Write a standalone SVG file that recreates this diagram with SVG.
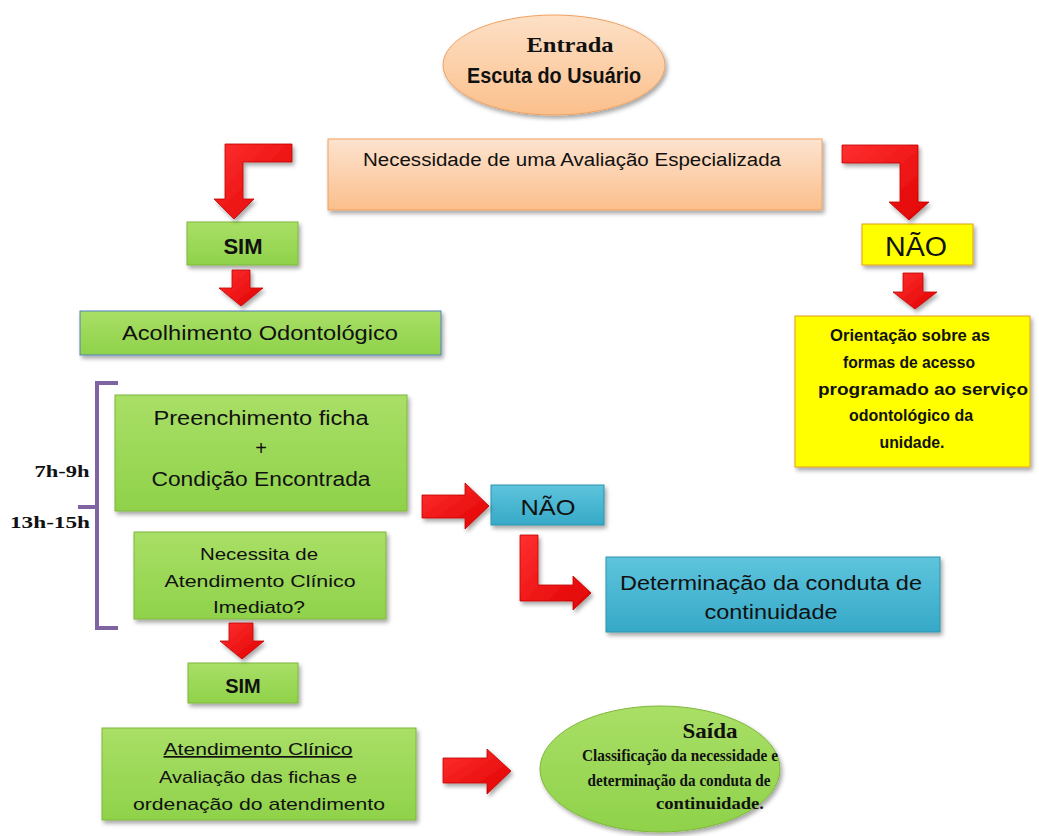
<svg xmlns="http://www.w3.org/2000/svg" width="1039" height="836" viewBox="0 0 1039 836">
<defs>
<linearGradient id="gOrange" x1="0" y1="0" x2="0" y2="1"><stop offset="0" stop-color="#fde3cf"/><stop offset="1" stop-color="#fbbf8c"/></linearGradient>
<linearGradient id="gEll" x1="0" y1="0" x2="0" y2="1"><stop offset="0" stop-color="#fde0c6"/><stop offset="1" stop-color="#fbc08c"/></linearGradient>
<linearGradient id="gGreen" x1="0" y1="0" x2="0" y2="1"><stop offset="0" stop-color="#a9df66"/><stop offset="1" stop-color="#8fd24a"/></linearGradient>
<linearGradient id="gBlue" x1="0" y1="0" x2="0" y2="1"><stop offset="0" stop-color="#5ec4dc"/><stop offset="1" stop-color="#36a9c8"/></linearGradient>
<linearGradient id="gRed" x1="0" y1="0" x2="1" y2="1"><stop offset="0" stop-color="#ff3030"/><stop offset="1" stop-color="#e00000"/></linearGradient>
<filter id="sh" x="-10%" y="-10%" width="130%" height="140%"><feDropShadow dx="2" dy="3" stdDeviation="2" flood-color="#000" flood-opacity="0.35"/></filter>
</defs>
<style>
.box{filter:url(#sh);}
.green{fill:url(#gGreen);stroke:#7fb63c;stroke-width:1}
.blue{fill:url(#gBlue);stroke:#2f93ad;stroke-width:1}
.yellow{fill:#ffff00;stroke:#e0a020;stroke-width:1}
.arrow{fill:url(#gRed);stroke:#c00000;stroke-width:0.8;filter:url(#sh)}
.t{font-family:"Liberation Sans",Arial,sans-serif;fill:#111;text-anchor:middle}
.s{font-family:"Liberation Serif","Times New Roman",serif;font-weight:bold;fill:#111;text-anchor:middle}
</style>

<g id="entrada">
<ellipse class="box" cx="554" cy="65" rx="111" ry="50" fill="url(#gEll)" stroke="#f0a060" stroke-width="1"/>
<text class="s" x="570" y="52" font-size="22" textLength="87" lengthAdjust="spacingAndGlyphs">Entrada</text>
<text class="t" x="554" y="83" font-size="22" font-weight="bold" textLength="174" lengthAdjust="spacingAndGlyphs">Escuta do Usuário</text>
</g>

<g id="necessidade">
<rect class="box" x="328" y="139" width="494" height="71" fill="url(#gOrange)" stroke="#f0a060" stroke-width="1"/>
<text class="t" x="572" y="166" font-size="18" textLength="418" lengthAdjust="spacingAndGlyphs">Necessidade de uma Avaliação  Especializada</text>
</g>

<g id="sim1">
<rect class="box green" x="187" y="222" width="111" height="43"/>
<text class="t" x="243" y="254" font-size="22" font-weight="bold">SIM</text>
</g>

<g id="acolhimento">
<rect class="box" x="80" y="311" width="361" height="44" fill="url(#gGreen)" stroke="#4f81bd" stroke-width="1"/>
<text class="t" x="260" y="340" font-size="20" textLength="276" lengthAdjust="spacingAndGlyphs">Acolhimento Odontológico</text>
</g>

<g id="nao1">
<rect class="box yellow" x="862" y="224" width="111" height="41"/>
<text class="t" x="916" y="256" font-size="27" textLength="62" lengthAdjust="spacingAndGlyphs">NÃO</text>
</g>

<g id="orientacao">
<rect class="box yellow" x="795" y="316" width="235" height="151"/>
<g class="t" font-size="17" font-weight="bold">
<text x="910" y="341" textLength="160" lengthAdjust="spacingAndGlyphs">Orientação sobre as</text>
<text x="909" y="368" textLength="132" lengthAdjust="spacingAndGlyphs">formas de acesso</text>
<text x="923" y="395" textLength="210" lengthAdjust="spacingAndGlyphs">programado ao serviço</text>
<text x="911" y="421" textLength="124" lengthAdjust="spacingAndGlyphs">odontológico da</text>
<text x="912" y="448" textLength="65" lengthAdjust="spacingAndGlyphs">unidade.</text>
</g>
</g>

<g id="horarios">
<path d="M118,383 H97 V628 H118 M97,507 H78" fill="none" stroke="#8064a2" stroke-width="4"/>
<text class="s" x="62" y="477" font-size="16" textLength="55" lengthAdjust="spacingAndGlyphs">7h-9h</text>
<text class="s" x="50" y="528" font-size="16" textLength="80" lengthAdjust="spacingAndGlyphs">13h-15h</text>
</g>

<g id="preenchimento">
<rect class="box green" x="115" y="395" width="292" height="116"/>
<g class="t" font-size="20">
<text x="261" y="425" textLength="215" lengthAdjust="spacingAndGlyphs">Preenchimento ficha</text>
<text x="261" y="455">+</text>
<text x="261" y="486" textLength="219" lengthAdjust="spacingAndGlyphs">Condição  Encontrada</text>
</g>
</g>

<g id="necessita">
<rect class="box green" x="134" y="532" width="252" height="87"/>
<g class="t" font-size="17">
<text x="259" y="560" textLength="118" lengthAdjust="spacingAndGlyphs">Necessita de</text>
<text x="260" y="587" textLength="191" lengthAdjust="spacingAndGlyphs">Atendimento Clínico</text>
<text x="259" y="613" textLength="92" lengthAdjust="spacingAndGlyphs">Imediato?</text>
</g>
</g>

<g id="nao2">
<rect class="box blue" x="491" y="485" width="113" height="40"/>
<text class="t" x="548" y="515" font-size="22" textLength="55" lengthAdjust="spacingAndGlyphs">NÃO</text>
</g>

<g id="determinacao">
<rect class="box blue" x="606" y="557" width="334" height="75"/>
<g class="t" font-size="20">
<text x="771" y="590" textLength="302" lengthAdjust="spacingAndGlyphs">Determinação da conduta de</text>
<text x="771" y="619" textLength="133" lengthAdjust="spacingAndGlyphs">continuidade</text>
</g>
</g>

<g id="sim2">
<rect class="box green" x="188" y="663" width="110" height="40"/>
<text class="t" x="243" y="693" font-size="20" font-weight="bold">SIM</text>
</g>

<g id="atendimento">
<rect class="box green" x="102" y="728" width="314" height="92"/>
<g class="t" font-size="17">
<text x="258" y="755" textLength="189" lengthAdjust="spacingAndGlyphs" text-decoration="underline">Atendimento Clínico</text>
<text x="258" y="783" textLength="198" lengthAdjust="spacingAndGlyphs">Avaliação das fichas e</text>
<text x="259" y="810" textLength="252" lengthAdjust="spacingAndGlyphs">ordenação do atendimento</text>
</g>
</g>

<g id="saida">
<ellipse class="box" cx="660" cy="769" rx="120" ry="63" fill="url(#gGreen)" stroke="#7fb63c" stroke-width="1"/>
<text class="s" x="710" y="738" font-size="22" textLength="55" lengthAdjust="spacingAndGlyphs">Saída</text>
<g class="s" font-size="17">
<text x="680" y="761" textLength="196" lengthAdjust="spacingAndGlyphs">Classificação da necessidade e</text>
<text x="679" y="786" textLength="183" lengthAdjust="spacingAndGlyphs">determinação da conduta de</text>
<text x="710" y="809" textLength="108" lengthAdjust="spacingAndGlyphs">continuidade.</text>
</g>
</g>

<g id="connectors">
<polygon class="arrow" points="225,144 292,144 292,162 243,162 243,199 254,199 234,219 214,199 225,199"/>
<polygon class="arrow" points="842,145 918,145 918,202 929,202 909,220 889,202 900,202 900,163 842,163"/>
<polygon class="arrow" points="232,270 250,270 250,288 263,288 241,306 219,288 232,288"/>
<polygon class="arrow" points="903,273 923,273 923,292 937,292 915,309 893,292 903,292"/>
<polygon class="arrow" points="422,495 465,495 465,483 489,506 465,529 465,518 422,518"/>
<polygon class="arrow" points="520,535 538,535 538,585 573,585 573,576 591,593 573,610 573,601 520,601"/>
<polygon class="arrow" points="229,623 253,623 253,641 264,641 242,659 220,641 229,641"/>
<polygon class="arrow" points="443,758 487,758 487,749 511,771 487,794 487,783 443,783"/>
</g>
</svg>
